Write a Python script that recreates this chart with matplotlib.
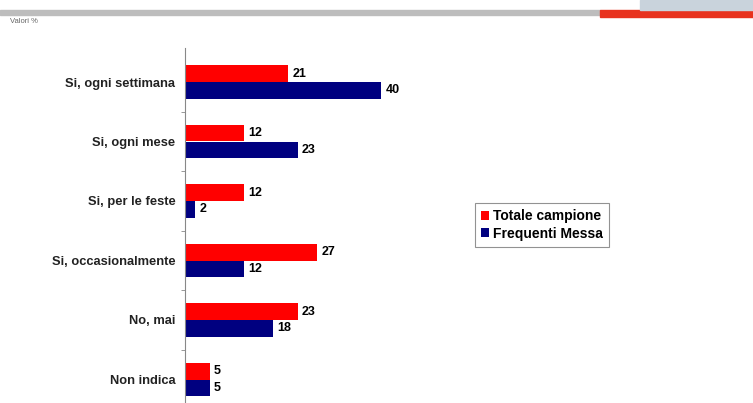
import matplotlib.pyplot as plt
import matplotlib.patches as mpatches

# data
categories = ["Si, ogni settimana", "Si, ogni mese", "Si, per le feste",
              "Si, occasionalmente", "No, mai", "Non indica"]
totale = [21, 12, 12, 27, 23, 5]
frequenti = [40, 23, 2, 12, 18, 5]
series_names = ["Totale campione", "Frequenti Messa"]

W, H = 753, 403
fig = plt.figure(figsize=(W / 100, H / 100), dpi=100)
plt.rcParams['font.family'] = ['Liberation Sans', 'DejaVu Sans']

# header decoration
fig.patches.append(mpatches.Rectangle((0, 1 - 15 / H), 600 / W, 5 / H,
                                      transform=fig.transFigure, color='#bdbdbd'))
fig.patches.append(mpatches.Rectangle((600 / W, 1 - 17 / H), 153 / W, 7 / H,
                                      transform=fig.transFigure, color='#e8321e'))
fig.patches.append(mpatches.Rectangle((640 / W, 1 - 10 / H), 113 / W, 10 / H,
                                      transform=fig.transFigure, color='#c9d3dc'))
fig.text(10 / W, 1 - 23 / H, "Valori %", fontsize=5.5, color='#666666')

# axes placement (pixel based)
left, top = 185, 48
px_per_unit = 4.9
xmax = 50
ax = fig.add_axes([left / W, 0, xmax * px_per_unit / W, (H - top) / H])

ys = list(range(len(categories)))
h = 0.28
ax.barh([y - h / 2 for y in ys], totale, height=h, color='#ff0000', label=series_names[0])
ax.barh([y + h / 2 for y in ys], frequenti, height=h, color='#000080', label=series_names[1])

for y, a, b in zip(ys, totale, frequenti):
    ax.text(a + 0.9, y - h / 2, str(a), va='center', ha='left', fontsize=9, fontweight='bold')
    ax.text(b + 0.9, y + h / 2, str(b), va='center', ha='left', fontsize=9, fontweight='bold')

# group center pixel = 82 + 59.5*i
y0, step = 82, 59.5
ax.set_ylim((H - y0) / step, (top - y0) / step)
ax.set_xlim(0, xmax)

ax.set_yticks(ys)
ax.set_yticklabels(categories, fontsize=9.3, fontweight='bold', color='#222222')
ax.tick_params(axis='y', length=0, pad=7)
ax.set_yticks([y + 0.5 for y in ys[:-1]], minor=True)
ax.tick_params(axis='y', which='minor', length=3, color='#888888')
ax.set_xticks([])
for s in ['top', 'right', 'bottom']:
    ax.spines[s].set_visible(False)
ax.spines['left'].set_color('#888888')

leg = fig.legend(loc='center', bbox_to_anchor=(542 / W, 1 - 225 / H),
                 prop={'weight': 'bold', 'size': 10}, frameon=True, fancybox=False,
                 handlelength=0.6, handleheight=0.6, handletextpad=0.3,
                 borderpad=0.45, labelspacing=0.25, edgecolor='#777777')
leg.get_frame().set_linewidth(0.8)

fig.savefig("out.png", dpi=100)
